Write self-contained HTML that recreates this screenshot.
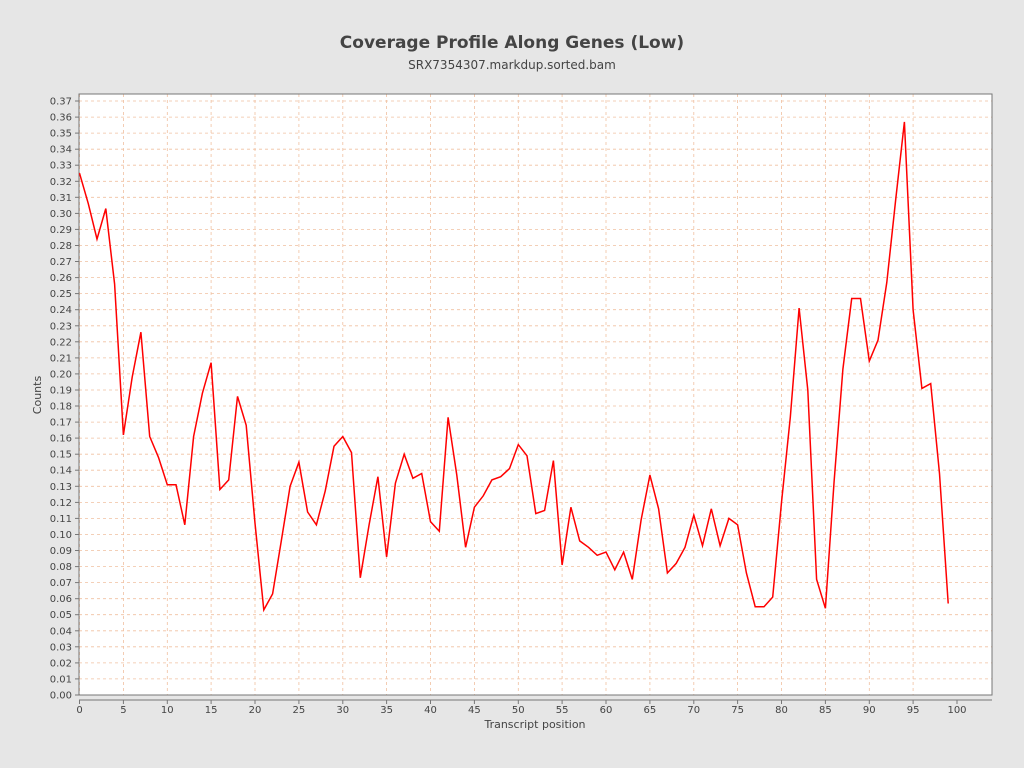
<!DOCTYPE html><html><head><meta charset="utf-8"><style>body{margin:0;background:#e6e6e6;}svg{display:block;font-family:"DejaVu Sans","Liberation Sans",sans-serif}</style></head><body>
<svg id="s" width="1024" height="768" xmlns="http://www.w3.org/2000/svg">
<rect width="1024" height="768" fill="#e6e6e6"/>
<text x="512" y="48" text-anchor="middle" font-size="17" font-weight="bold" fill="#444">Coverage Profile Along Genes (Low)</text>
<text x="512" y="69" text-anchor="middle" font-size="12" fill="#444">SRX7354307.markdup.sorted.bam</text>
<rect x="79" y="94" width="913" height="601" fill="#fff"/>
<g id="g"></g>
<text x="535" y="728" text-anchor="middle" font-size="11" fill="#444">Transcript position</text>
<text transform="translate(41,395) rotate(-90)" text-anchor="middle" font-size="11" fill="#444">Counts</text>
</svg>
<script>
var d=[0.325,0.306,0.284,0.303,0.256,0.162,0.198,0.226,0.161,0.148,0.131,0.131,0.106,0.161,0.188,0.207,0.128,0.134,0.186,0.168,0.107,0.053,0.063,0.096,0.130,0.145,0.114,0.106,0.127,0.155,0.161,0.151,0.073,0.106,0.136,0.086,0.132,0.150,0.135,0.138,0.108,0.102,0.173,0.137,0.092,0.117,0.124,0.134,0.136,0.141,0.156,0.149,0.113,0.115,0.146,0.081,0.117,0.096,0.092,0.087,0.089,0.078,0.089,0.072,0.109,0.137,0.116,0.076,0.082,0.092,0.112,0.093,0.116,0.093,0.110,0.106,0.076,0.055,0.055,0.061,0.120,0.173,0.241,0.190,0.072,0.054,0.133,0.203,0.247,0.247,0.208,0.221,0.257,0.308,0.357,0.240,0.191,0.194,0.138,0.057];
function X(i){return 79.5+i*8.775}function Y(v){return 695-v*1605.4}
var h='';
for(var i=0;i<=37;i++){var y=Y(i/100).toFixed(1);h+='<line x1="79" x2="992" y1="'+y+'" y2="'+y+'" stroke="#f0c0a0" stroke-dasharray="3,3" stroke-width="0.8"/>';h+='<line x1="75" x2="79" y1="'+y+'" y2="'+y+'" stroke="#777"/>';h+='<text x="72" y="'+(+y+3.5)+'" text-anchor="end" font-size="10" fill="#444">'+(i/100).toFixed(2)+'</text>';}
for(var i=0;i<=100;i+=5){var x=X(i).toFixed(1);if(i<100)h+='<line y1="94" y2="695" x1="'+x+'" x2="'+x+'" stroke="#f0c0a0" stroke-dasharray="3,3" stroke-width="0.8"/>';h+='<line y1="700" y2="704" x1="'+x+'" x2="'+x+'" stroke="#777"/>';h+='<text x="'+x+'" y="713" text-anchor="middle" font-size="10" fill="#444">'+i+'</text>';}
h+='<rect x="79" y="94" width="913" height="601" fill="none" stroke="#777"/>';
h+='<line x1="79" x2="992" y1="700" y2="700" stroke="#777"/>';
var p=d.map(function(v,i){return X(i).toFixed(1)+','+Y(v).toFixed(1)}).join(' ');
h+='<polyline points="'+p+'" fill="none" stroke="#f00" stroke-width="1.5"/>';
document.getElementById('g').innerHTML=h;
</script></body></html>
